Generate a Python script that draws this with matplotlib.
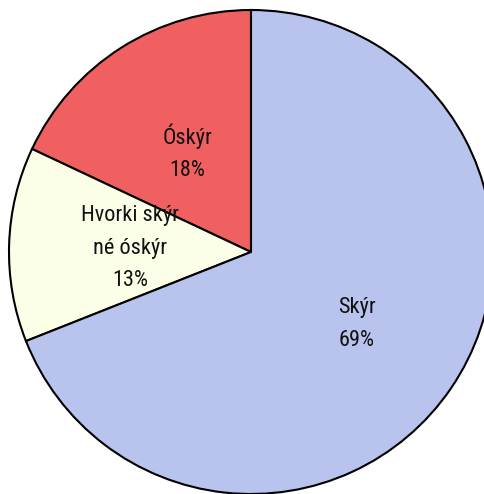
import numpy as np
import matplotlib.pyplot as plt

names = ['Óskýr', 'Hvorki skýr\nné óskýr', 'Skýr']
values = [18, 13, 69]
colors = ['#F06060', '#FCFFE8', '#B8C4EE']

plt.rcParams['font.family'] = ['Liberation Sans Narrow', 'Arial Narrow',
                               'Roboto Condensed', 'IBM Plex Sans Condensed',
                               'DejaVu Sans']

fig = plt.figure(figsize=(4.85, 4.94), dpi=100)
ax = fig.add_axes([0, 0, 1, 1])

cx, cy, r = 251, 242, 242
wedges, _ = ax.pie(values, colors=colors, startangle=90, counterclock=True,
                   center=(cx, cy), radius=r, frame=True,
                   wedgeprops=dict(edgecolor='black', linewidth=1.5))
ax.set_xlim(0, 485)
ax.set_ylim(0, 494)
ax.set_aspect('equal')
ax.axis('off')

dists = [0.49, 0.5, 0.53]
for w, n, v, d in zip(wedges, names, values, dists):
    a = np.deg2rad((w.theta1 + w.theta2) / 2)
    ax.text(cx + d * r * np.cos(a), cy + d * r * np.sin(a), f'{n}\n{v}%',
            ha='center', va='center', fontsize=16, linespacing=1.7,
            color='#111111')

fig.savefig('out.png', dpi=100)
